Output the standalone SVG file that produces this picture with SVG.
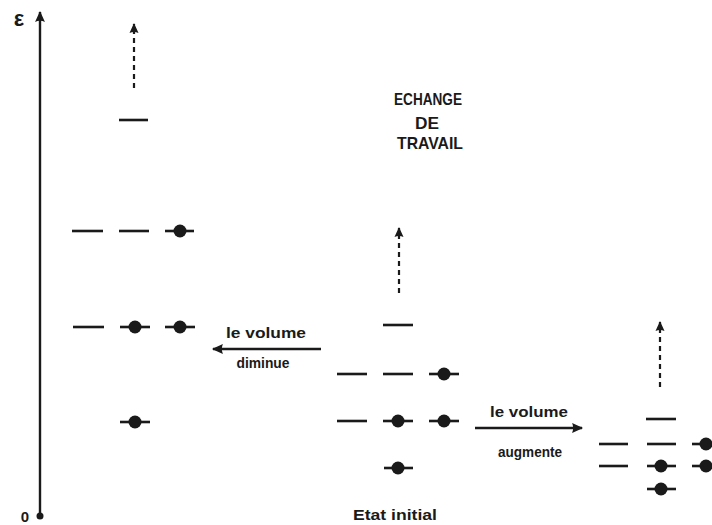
<svg xmlns="http://www.w3.org/2000/svg" width="712" height="525" viewBox="0 0 712 525">
<style>
.lv{stroke:#1a1a1a;stroke-width:2.6;stroke-linecap:butt;fill:none}
.el{fill:#1a1a1a}
.dash{stroke:#1a1a1a;stroke-width:2.2;stroke-dasharray:5,4;fill:none}
.ar{stroke:#1a1a1a;stroke-width:2.4;fill:none}
.t{font-family:"Liberation Sans",Arial,sans-serif;font-weight:bold;fill:#1a1a1a}
</style>
<defs>
<marker id="ah" viewBox="0 0 10 10" refX="9" refY="5" markerWidth="10" markerHeight="10" markerUnits="userSpaceOnUse" orient="auto">
<path d="M0,0.5 L10,5 L0,9.5 Q2,5 0,0.5 Z" fill="#1a1a1a"/>
</marker>
<marker id="ahs" viewBox="0 0 10 10" refX="9" refY="5" markerWidth="14" markerHeight="11" markerUnits="userSpaceOnUse" orient="auto">
<path d="M0,0.5 L10,5 L0,9.5 Q2,5 0,0.5 Z" fill="#1a1a1a"/>
</marker>
</defs>
<rect width="712" height="525" fill="#ffffff"/>

<g id="axis">
<line class="ar" x1="40" y1="516" x2="40" y2="12" marker-end="url(#ahs)"/>
<circle cx="40" cy="516" r="3.5" fill="#1a1a1a"/>
<text class="t" x="19" y="26" font-size="22" text-anchor="middle">ε</text>
<text class="t" x="25" y="522" font-size="15" text-anchor="middle">0</text>
</g>

<g id="state-compressed">
<line class="lv" x1="119" y1="120" x2="148" y2="120"/>
<line class="lv" x1="72" y1="231" x2="103" y2="231"/>
<line class="lv" x1="119" y1="231" x2="149" y2="231"/>
<line class="lv" x1="165" y1="231" x2="194" y2="231"/>
<circle class="el" cx="180" cy="231" r="6.5"/>
<line class="lv" x1="73" y1="327" x2="104" y2="327"/>
<line class="lv" x1="120" y1="327" x2="150" y2="327"/>
<circle class="el" cx="135" cy="327" r="6.5"/>
<line class="lv" x1="165" y1="327" x2="195" y2="327"/>
<circle class="el" cx="180" cy="327" r="6.5"/>
<line class="lv" x1="120" y1="422" x2="150" y2="422"/>
<circle class="el" cx="135" cy="422" r="6.5"/>
</g>

<g id="state-initial">
<line class="lv" x1="383" y1="325" x2="413" y2="325"/>
<line class="lv" x1="337" y1="374" x2="367" y2="374"/>
<line class="lv" x1="383" y1="374" x2="413" y2="374"/>
<line class="lv" x1="429" y1="374" x2="459" y2="374"/>
<circle class="el" cx="444" cy="374" r="6.5"/>
<line class="lv" x1="337" y1="421" x2="367" y2="421"/>
<line class="lv" x1="383" y1="421" x2="413" y2="421"/>
<circle class="el" cx="398" cy="421" r="6.5"/>
<line class="lv" x1="429" y1="421" x2="459" y2="421"/>
<circle class="el" cx="444" cy="421" r="6.5"/>
<line class="lv" x1="384" y1="468" x2="413" y2="468"/>
<circle class="el" cx="398" cy="468" r="6.5"/>
<text class="t" x="395" y="520" font-size="15" text-anchor="middle" textLength="84" lengthAdjust="spacingAndGlyphs">Etat initial</text>
</g>

<g id="state-expanded">
<line class="lv" x1="646" y1="419" x2="676" y2="419"/>
<line class="lv" x1="599" y1="444" x2="628" y2="444"/>
<line class="lv" x1="647" y1="444" x2="676" y2="444"/>
<line class="lv" x1="692" y1="444" x2="712" y2="444"/>
<circle class="el" cx="706" cy="444" r="6.5"/>
<line class="lv" x1="599" y1="466" x2="628" y2="466"/>
<line class="lv" x1="647" y1="466" x2="676" y2="466"/>
<circle class="el" cx="661" cy="466" r="6.5"/>
<line class="lv" x1="692" y1="466" x2="712" y2="466"/>
<circle class="el" cx="706" cy="466" r="6.5"/>
<line class="lv" x1="647" y1="489" x2="676" y2="489"/>
<circle class="el" cx="661" cy="489" r="6.5"/>
</g>

<g id="title">
<text class="t" x="428" y="105" font-size="17" text-anchor="middle" textLength="68" lengthAdjust="spacingAndGlyphs">ECHANGE</text>
<text class="t" x="427" y="129" font-size="17" text-anchor="middle" textLength="24" lengthAdjust="spacingAndGlyphs">DE</text>
<text class="t" x="430" y="149" font-size="17" text-anchor="middle" textLength="66" lengthAdjust="spacingAndGlyphs">TRAVAIL</text>
</g>

<g id="connectors">
<line class="dash" x1="134" y1="88" x2="134" y2="24" marker-end="url(#ah)"/>
<line class="dash" x1="399" y1="293" x2="399" y2="228" marker-end="url(#ah)"/>
<line class="dash" x1="660" y1="387" x2="660" y2="322" marker-end="url(#ah)"/>
<line class="ar" x1="321" y1="349" x2="213" y2="349" marker-end="url(#ahs)"/>
<line class="ar" x1="475" y1="428" x2="582" y2="428" marker-end="url(#ahs)"/>
</g>

<g id="labels">
<text class="t" x="266" y="338" font-size="15" text-anchor="middle" textLength="80" lengthAdjust="spacingAndGlyphs">le volume</text>
<text class="t" x="263" y="368" font-size="15" text-anchor="middle" textLength="53" lengthAdjust="spacingAndGlyphs">diminue</text>
<text class="t" x="529" y="417" font-size="15" text-anchor="middle" textLength="78" lengthAdjust="spacingAndGlyphs">le volume</text>
<text class="t" x="530" y="457" font-size="15" text-anchor="middle" textLength="64" lengthAdjust="spacingAndGlyphs">augmente</text>
</g>
</svg>
